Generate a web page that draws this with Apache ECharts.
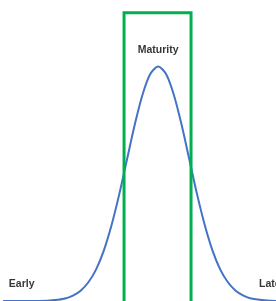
<!DOCTYPE html>
<html>
<head>
<meta charset="utf-8">
<script src="https://cdn.jsdelivr.net/npm/echarts@6/dist/echarts.min.js"></script>
<style>
	html, body { margin: 0; padding: 0; background: #fff; }
	#main { width: 276px; height: 301px; }
</style>
</head>
<body>
<div id="main"></div>
<script>
// position along the development scale (std devs from the peak)
let xValues = [-5, -4.5, -4, -3.5, -3, -2.75, -2.5, -2.25, -2, -1.75, -1.5, -1.25, -1, -0.75, -0.5, -0.25, 0,
	0.25, 0.5, 0.75, 1, 1.25, 1.5, 1.75, 2, 2.25, 2.5, 2.75, 3, 3.5, 3.8];
// relative height of the curve
let yValues = [0, 0, 0.0003, 0.002, 0.011, 0.023, 0.044, 0.08, 0.135, 0.216, 0.325, 0.458, 0.607, 0.755, 0.882, 0.969, 1,
	0.969, 0.882, 0.755, 0.607, 0.458, 0.325, 0.216, 0.135, 0.08, 0.044, 0.023, 0.011, 0.002, 0.0005];
// the green "maturity" window
let windowX = [-1.1, 1.06];
let windowTop = 1.23;
// stage labels
let stageNames = ['Early', 'Maturity', 'Late'];
let stageX = [-4.4, 0, 3.6];
let stageY = [0.07, 1.07, 0.07];

let myChart = echarts.init(document.getElementById('main'));

let curve = xValues.map((x, i) => [x, yValues[i]]);
let box = [
	[windowX[0], -0.2],
	[windowX[0], windowTop],
	[windowX[1], windowTop],
	[windowX[1], -0.2]
];
let labels = stageNames.map((n, i) => ({ name: n, value: [stageX[i], stageY[i]] }));

let option = {
	backgroundColor: '#fff',
	animation: false,
	grid: { left: 0, right: 0, top: 0, bottom: -2 },
	xAxis: {
		type: 'value',
		min: -5.1,
		max: 3.8,
		show: false
	},
	yAxis: {
		type: 'value',
		min: 0,
		max: 1.284,
		show: false
	},
	series: [
		{
			type: 'line',
			data: curve,
			smooth: 0.3,
			showSymbol: false,
			clip: false,
			lineStyle: { color: '#4472c4', width: 2 }
		},
		{
			type: 'line',
			data: box,
			showSymbol: false,
			clip: false,
			lineStyle: { color: '#00b050', width: 3, join: 'miter' }
		},
		{
			type: 'scatter',
			data: labels,
			symbolSize: 0,
			label: {
				show: true,
				position: 'inside',
				formatter: '{b}',
				color: '#000',
				fontFamily: 'Liberation Sans',
				fontWeight: 'bold',
				fontSize: 10.5
			}
		}
	]
};

myChart.setOption(option);
</script>
</body>
</html>
